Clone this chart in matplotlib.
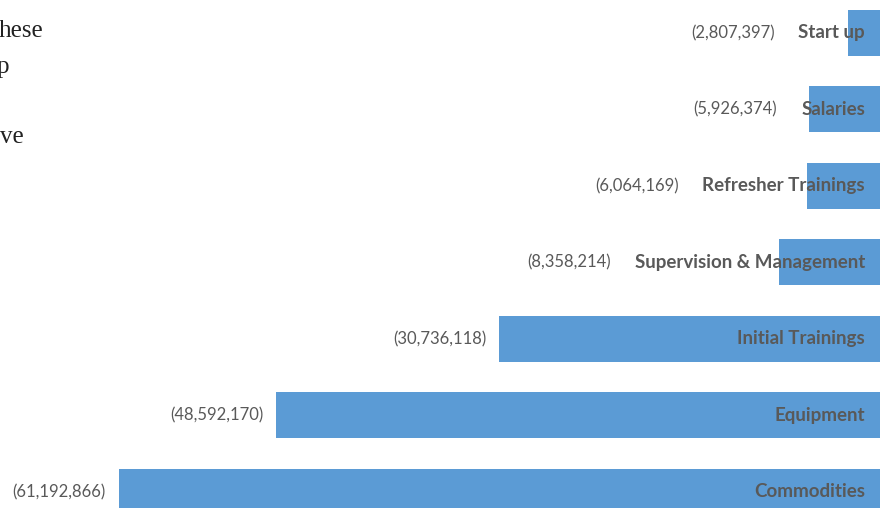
import matplotlib.pyplot as plt

# cost breakdown (shown as negatives, bars grow leftward)
categories = ["Start up", "Salaries", "Refresher Trainings", "Supervision & Management",
              "Initial Trainings", "Equipment", "Commodities"]
costs = [2807397, 5926374, 6064169, 8358214, 30736118, 48592170, 61192866]

# clipped text from the surrounding page
side_text = ["hese", "p", "", "ve"]
side_right = [43, 9, 0, 24]

blue = "#5B9BD5"
gray = "#595959"

W, H = 880, 508
fig = plt.figure(figsize=(W / 100, H / 100), dpi=100)
ax = fig.add_axes([0, 0, 1, 1])

ypos = list(range(len(categories)))
vals = [-c for c in costs]
ax.barh(ypos, vals, height=0.6, color=blue)

ax.set_xlim(-70.7e6, -0.24e6)
ax.set_ylim(6.21, -0.43)
ax.axis("off")

# category labels, right aligned near the right edge
cat_texts = []
for y, name in zip(ypos, categories):
    t = ax.annotate(name, xy=(1, y), xycoords=("axes fraction", "data"),
                    xytext=(-15, 0), textcoords="offset pixels",
                    ha="right", va="center", fontsize=13.5, fontweight="bold",
                    color=gray, family="Lato")
    cat_texts.append(t)

fig.canvas.draw()
renderer = fig.canvas.get_renderer()

# value labels go left of whichever is further left: bar end or category label
for y, v, t in zip(ypos, vals, cat_texts):
    bar_left = ax.transData.transform((v, y))[0]
    txt_left = t.get_window_extent(renderer).x0
    if txt_left < bar_left:
        x_px = txt_left - 24
    else:
        x_px = bar_left - 13
    x_data = ax.transData.inverted().transform((x_px, 0))[0]
    ax.text(x_data, y, "({:,})".format(-v), ha="right", va="center",
            fontsize=12, color=gray, family="Lato")

for i, s in enumerate(side_text):
    if s:
        fig.text(side_right[i] / W, 1 - (37 + 35.5 * i) / H, s,
                 ha="right", va="baseline", fontsize=18,
                 family="Liberation Serif", color="#222222")

fig.savefig("out.png", dpi=100)
